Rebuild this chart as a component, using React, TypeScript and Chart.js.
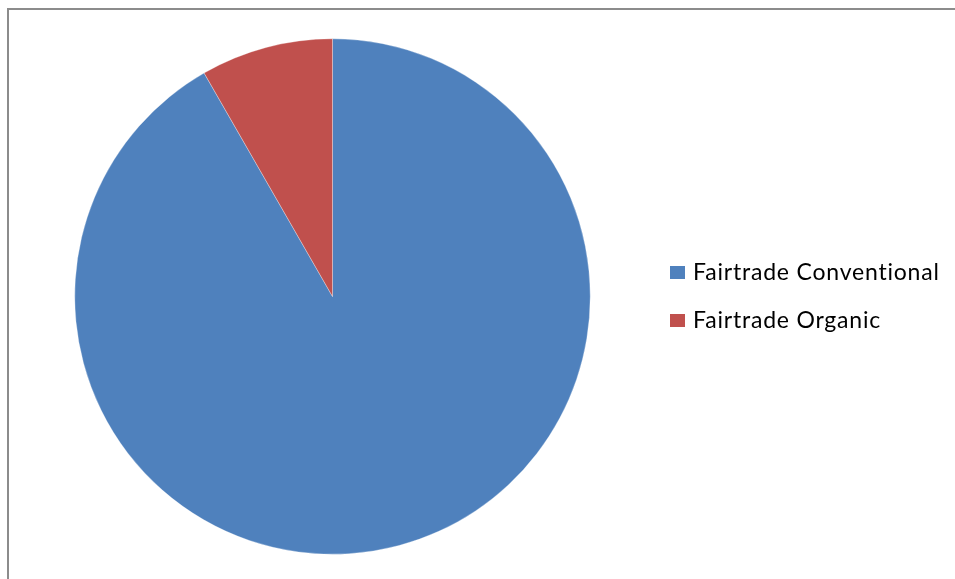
import React, { useEffect, useRef } from "react";
import { Chart, registerables } from "chart.js";

Chart.register(...registerables);

const categories = ["Fairtrade Conventional", "Fairtrade Organic"];
const shares = [91.7, 8.3];
const colors = ["#4F81BD", "#C0504D"];

const legendPlugin = {
  id: "sideLegend",
  afterDraw(chart: any) {
    const ctx = chart.ctx;
    const labels = chart.data.labels as string[];
    const bg = chart.data.datasets[0].backgroundColor as string[];
    ctx.save();
    ctx.font = "23px Lato";
    (ctx as any).letterSpacing = "0.8px";
    ctx.textBaseline = "alphabetic";
    labels.forEach((l, i) => {
      const y = 280 + i * 48;
      ctx.fillStyle = bg[i];
      ctx.fillRect(670, y - 14, 15, 13);
      ctx.fillStyle = "#000";
      ctx.fillText(l, 693, y);
    });
    ctx.restore();
  },
};

export default function App() {
  const ref = useRef<HTMLCanvasElement>(null);
  useEffect(() => {
    document.body.style.overflow = "hidden";
    const chart = new Chart(ref.current!, {
      type: "pie",
      data: {
        labels: categories,
        datasets: [
          {
            data: shares,
            backgroundColor: colors,
            borderWidth: 0.5,
            borderColor: "rgba(255,255,255,0.6)",
          },
        ],
      },
      options: {
        animation: false,
        responsive: false,
        devicePixelRatio: 1,
        layout: { padding: { left: 74.5, right: 364.5, top: 38.5, bottom: 24.5 } },
        plugins: { legend: { display: false }, tooltip: { enabled: false } },
      },
      plugins: [legendPlugin],
    });
    return () => chart.destroy();
  }, []);
  return (
    <div>
      <canvas
        ref={ref}
        width={955}
        height={579}
        style={{ position: "fixed", left: 0, top: 0, width: 955, height: 579 }}
      />
      <div
        style={{
          position: "fixed",
          left: 7,
          top: 8,
          width: 1000,
          height: 700,
          borderLeft: "2px solid #8c8c8c",
          borderTop: "2px solid #8c8c8c",
          pointerEvents: "none",
        }}
      />
    </div>
  );
}
